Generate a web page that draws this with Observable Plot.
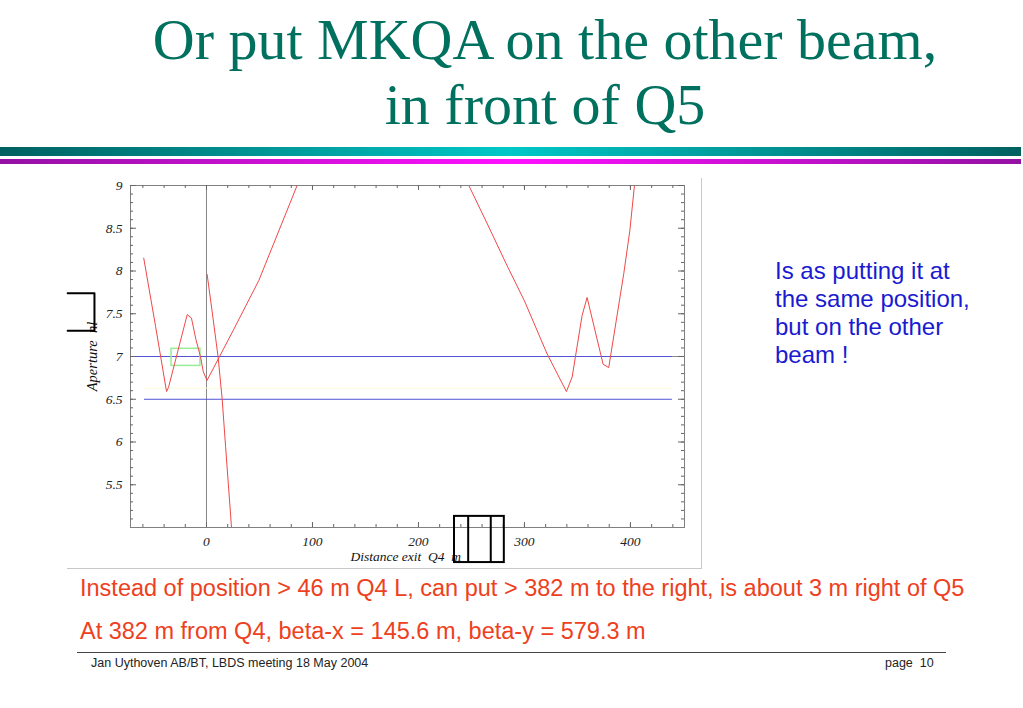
<!DOCTYPE html>
<html><head><meta charset="utf-8">
<script src="https://cdn.jsdelivr.net/npm/d3@7"></script>
<script src="https://cdn.jsdelivr.net/npm/@observablehq/plot@0.6"></script>
<style>
body{margin:0;background:#fff;}
#page{position:relative;width:1023px;height:708px;overflow:hidden;font-family:"Liberation Sans",Arial,sans-serif;background:#fff;}
.title{position:absolute;left:0;width:1090px;text-align:center;font-family:"Liberation Serif","Times New Roman",serif;font-size:58px;line-height:57px;color:#00705f;white-space:nowrap;}
#bar1{position:absolute;left:0;top:147px;width:1021px;height:9px;background:linear-gradient(to right,#006060,#00c8c8 50%,#006060);}
#bar2{position:absolute;left:0;top:159px;width:1021px;height:5px;background:linear-gradient(to right,#9410a4,#ff10ff 50%,#9410a4);}
#panel{position:absolute;left:67px;top:178px;width:634px;height:390px;border-right:1px solid #c8c8c8;border-bottom:1px solid #c8c8c8;}
#chart{position:absolute;left:60px;top:175px;}
#note{position:absolute;left:775px;top:257px;font-size:24px;line-height:28px;color:#1a1ad0;}
.red{position:absolute;left:80px;font-size:23.5px;color:#ee4020;white-space:nowrap;}
#footline{position:absolute;left:77px;top:652px;width:869px;height:1px;background:#444;}
.foot{position:absolute;top:656px;font-size:12.5px;color:#222;white-space:nowrap;}
</style></head><body><div id="page">
<div class="title" style="top:11px;">Or put MKQA on the other beam,</div>
<div class="title" style="top:76px;">in front of Q5</div>
<div id="bar1"></div><div id="bar2"></div>
<div id="panel"></div>
<div id="chart"></div>
<div id="note">Is as putting it at<br>the same position,<br>but on the other<br>beam !</div>
<div class="red" style="top:575px;">Instead of position &gt; 46 m Q4 L, can put &gt; 382 m to the right, is about 3 m right of Q5</div>
<div class="red" style="top:618px;">At 382 m from Q4, beta-x = 145.6 m, beta-y = 579.3 m</div>
<div id="footline"></div>
<div class="foot" style="left:91px;">Jan Uythoven AB/BT, LBDS meeting 18 May 2004</div>
<div class="foot" style="left:885px;">page&nbsp;&nbsp;10</div>
</div>
<script>
// Aperture curves (distance from exit of Q4 [m], aperture)
const seg1X = [-59.2, -48, -37.7, -35.8, -18.2, -14.2, -10, -5.7, -3, 0.5, 25, 49.4, 85.5];
const seg1Y = [8.15, 7.35, 6.59, 6.64, 7.49, 7.45, 7.2, 7.0, 6.82, 6.72, 7.3, 7.89, 9.0];
const seg2X = [0.6, 5.4, 11, 14.8, 18, 23.6];
const seg2Y = [7.96, 7.52, 6.99, 6.5, 5.95, 5.0];
const seg3X = [247.5, 265, 283.7, 300, 321.4, 339.6, 345, 354.4, 359.1, 374.2, 379.5, 393.7, 399.4, 403.8];
const seg3Y = [9.0, 8.55, 8.06, 7.65, 7.03, 6.59, 6.76, 7.48, 7.69, 6.91, 6.87, 7.97, 8.47, 9.0];
// reference levels
const levelY = [7, 6.5];
const levelX1 = [-71.7, -58.5];
const levelX2 = [439.6, 439.6];
const faintY = 6.63;
// green box
const boxX = [-33, -5.7];
const boxY = [6.89, 7.09];
// black annotation shapes (pasted on slide)
const bracketX = [-131, -105.7, -105.7, -131];
const bracketY = [7.74, 7.74, 7.30, 7.30];
const magX = [234, 246.9, 268.2, 281];
const magY = [4.59, 5.13];
// ticks
const xTickLabels = [0, 100, 200, 300, 400];
const yTickLabels = [5.5, 6, 6.5, 7, 7.5, 8, 8.5, 9];
const xDomain = [-71.7, 451];
const yDomain = [5, 9];

const toPts = (xs, ys) => xs.map((x, i) => ({x, y: ys[i]}));
const xMinor = d3.range(-60, 441, 20);
const yMinor = d3.range(51, 90).map(v => v / 10);
const W = 645, H = 400, mL = 70, mR = 21, mT = 10, mB = 48;
const iW = W - mL - mR, iH = H - mT - mB;
const levels = levelY.map((y, i) => ({y, x1: levelX1[i], x2: levelX2[i]}));

const chart = Plot.plot({
  width: W, height: H, marginLeft: mL, marginRight: mR, marginTop: mT, marginBottom: mB,
  x: {domain: xDomain, axis: null},
  y: {domain: yDomain, axis: null},
  style: {fontFamily: "Liberation Serif, serif", fontStyle: "italic", fontSize: "13.5px", color: "#222", background: "transparent", overflow: "visible"},
  marks: [
    Plot.ruleY([7], {stroke: "#888", strokeWidth: 1}),
    Plot.ruleX([0], {stroke: "#888", strokeWidth: 1}),
    Plot.ruleY([faintY], {x1: levelX1[1], x2: levelX2[1], stroke: "#fbfbd8", strokeWidth: 1}),
    Plot.ruleY(levels, {y: "y", x1: "x1", x2: "x2", stroke: "#5252d6", strokeWidth: 1}),
    Plot.rect([{x1: boxX[0], x2: boxX[1], y1: boxY[0], y2: boxY[1]}], {x1: "x1", x2: "x2", y1: "y1", y2: "y2", fill: "none", stroke: "#96ee96", strokeWidth: 1.5}),
    Plot.line(toPts(seg1X, seg1Y), {x: "x", y: "y", stroke: "#f04848", strokeWidth: 1}),
    Plot.line(toPts(seg2X, seg2Y), {x: "x", y: "y", stroke: "#f04848", strokeWidth: 1}),
    Plot.line(toPts(seg3X, seg3Y), {x: "x", y: "y", stroke: "#f04848", strokeWidth: 1}),
    Plot.frame({stroke: "#808080", strokeWidth: 1}),
    // inward ticks
    Plot.tickX(xMinor, {x: d => d, insetTop: iH - 3, stroke: "#666"}),
    Plot.tickX(xTickLabels, {x: d => d, insetTop: iH - 5, stroke: "#666"}),
    Plot.tickX(xMinor, {x: d => d, insetBottom: iH - 3, stroke: "#666"}),
    Plot.tickX(xTickLabels, {x: d => d, insetBottom: iH - 5, stroke: "#666"}),
    Plot.tickY(yMinor, {y: d => d, insetRight: iW - 3, stroke: "#666"}),
    Plot.tickY(yTickLabels, {y: d => d, insetRight: iW - 6, stroke: "#666"}),
    Plot.tickY(yMinor, {y: d => d, insetLeft: iW - 3, stroke: "#666"}),
    Plot.tickY(yTickLabels, {y: d => d, insetLeft: iW - 6, stroke: "#666"}),
    Plot.text(xTickLabels, {x: d => d, frameAnchor: "bottom", dy: 18, text: d => String(d), fill: "#222"}),
    Plot.text(yTickLabels, {y: d => d, frameAnchor: "left", dx: -8, textAnchor: "end", text: d => String(d), fill: "#222"}),
    Plot.text(["Distance exit  Q4  m"], {x: 188, frameAnchor: "bottom", dy: 33, text: d => d, fill: "#111"}),
    Plot.text(["Aperture  nl"], {y: 7.0, frameAnchor: "left", dx: -38, rotate: -90, textAnchor: "middle", text: d => d, fill: "#111", fontSize: 14.5}),
    // black annotations
    Plot.line(toPts(bracketX, bracketY), {x: "x", y: "y", stroke: "#000", strokeWidth: 2}),
    Plot.rect([{x1: magX[0], x2: magX[3], y1: magY[0], y2: magY[1]}], {x1: "x1", x2: "x2", y1: "y1", y2: "y2", fill: "none", stroke: "#000", strokeWidth: 2}),
    Plot.ruleX([magX[1], magX[2]], {x: d => d, y1: magY[0], y2: magY[1], stroke: "#000", strokeWidth: 2})
  ]
});
document.getElementById("chart").appendChild(chart);
</script>
</body></html>
